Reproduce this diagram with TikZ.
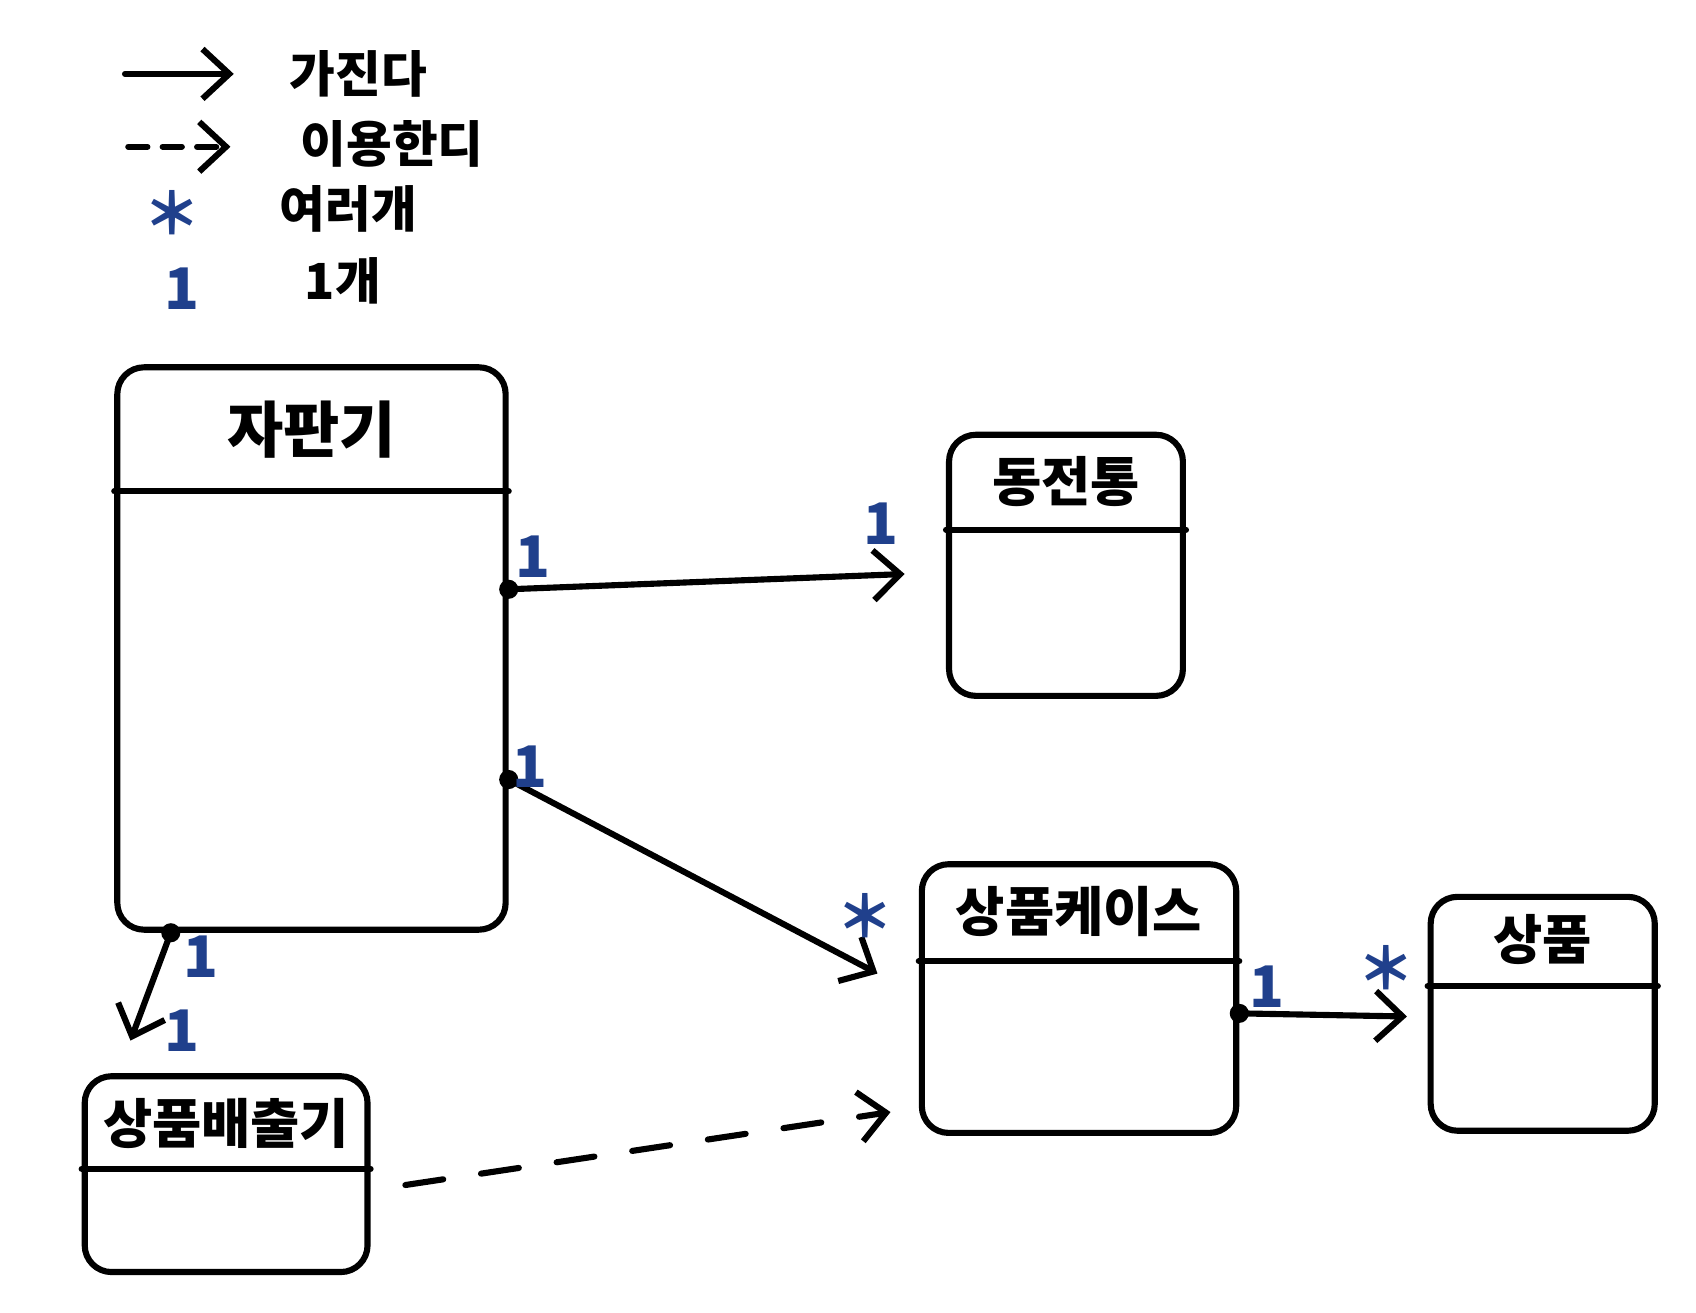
\documentclass[tikz,border=0pt]{standalone}
\usepackage{fontspec}
\setmainfont{Noto Sans CJK KR}
\usetikzlibrary{arrows.meta,calc}
\definecolor{penblue}{RGB}{32,64,140}

\begin{document}
\begin{tikzpicture}[x=0.01cm,y=-0.01cm,line width=1.6pt,line cap=round,line join=round,
	classbox/.style		=	{draw,rounded corners=7pt,inner sep=0pt},
	classtitle/.style	=	{font=\fontsize{14}{16}\selectfont\bfseries},
	legendtext/.style	=	{font=\fontsize{13}{15}\selectfont\bfseries,anchor=west},
	mult/.style			=	{text=penblue,font=\fontsize{15}{17}\selectfont\bfseries},
	has/.style			=	{-{Straight Barb[length=7pt,width=13pt]}},
	uses/.style			=	{has,dash pattern=on 10pt off 10pt},
	enddot/.style		=	{circle,fill,inner sep=0pt,minimum size=5pt}]

	\useasboundingbox (0,0) rectangle (1560,1207);

	% legend
	\coordinate (lg has a) at (115,68);
	\coordinate (lg has b) at (215,68);
	\coordinate (lg uses a) at (118,135);
	\coordinate (lg uses b) at (212,135);
	\draw[has] (lg has a) -- (lg has b);
	\draw[-{Straight Barb[length=7pt,width=13pt]},dash pattern=on 5pt off 4pt] (lg uses a) -- (lg uses b);
	\node[legendtext] (lg has t) at (252,68) {가진다};
	\node[legendtext] (lg uses t) at (262,132) {이용한디};
	\node[mult] (lg many) at (158,196) {＊};
	\node[legendtext] (lg many t) at (243,192) {여러개};
	\node[mult] (lg one) at (167,266) {1};
	\node[legendtext] (lg one t) at (266,258) {1개};

	% classes
	\node[classbox,minimum width=3.57cm,minimum height=5.17cm] (vend) at (286.5,596.5) {};
	\node[classbox,minimum width=2.15cm,minimum height=2.40cm] (coin) at (980.5,520) {};
	\node[classbox,minimum width=2.89cm,minimum height=2.47cm] (case) at (992.5,918.5) {};
	\node[classbox,minimum width=2.06cm,minimum height=2.15cm] (item) at (1419,932.5) {};
	\node[classbox,minimum width=2.60cm,minimum height=1.80cm] (disp) at (208,1080) {};

	\draw ($(vend.north west)+(0,117)$) -- ($(vend.north east)+(0,117)$);
	\draw ($(coin.north west)+(0,90)$) -- ($(coin.north east)+(0,90)$);
	\draw ($(case.north west)+(0,92)$) -- ($(case.north east)+(0,92)$);
	\draw ($(item.north west)+(0,85)$) -- ($(item.north east)+(0,85)$);
	\draw ($(disp.north west)+(0,88)$) -- ($(disp.north east)+(0,88)$);

	\node[classtitle,font=\fontsize{16}{18}\selectfont\bfseries] (vend t) at ($(vend.north)+(0,60)$) {자판기};
	\node[classtitle] (coin t) at ($(coin.north)+(0,46)$) {동전통};
	\node[classtitle] (case t) at ($(case.north)+(0,46)$) {상품케이스};
	\node[classtitle] (item t) at ($(item.north)+(0,42)$) {상품};
	\node[classtitle] (disp t) at ($(disp.north)+(0,46)$) {상품배출기};

	% connectors
	\coordinate (d1) at ($(vend.north east)+(0,207)$);
	\coordinate (d2) at ($(vend.north east)+(0,382)$);
	\coordinate (d3) at ($(vend.south west)+(52,0)$);
	\coordinate (d4) at ($(case.north east)+(0,140)$);
	\coordinate (e1) at ($(coin.west)+(-38,8)$);
	\coordinate (e2) at ($(case.west)+(-38,-23)$);
	\coordinate (e3) at ($(disp.north)+(-88,-30)$);
	\coordinate (e4) at ($(item.west)+(-19,2.5)$);
	\coordinate (u1) at ($(disp.east)+(32,10)$);
	\coordinate (u2) at ($(case.south west)+(-26,-22)$);

	\draw[has] (d1) -- (e1);
	\draw[has] (d2) -- (e2);
	\draw[has] (d3) -- (e3);
	\draw[has] (d4) -- (e4);
	\draw[uses] (u1) -- (u2);
	\foreach \d in {d1,d2,d3,d4}
		\node[enddot] at (\d) {};

	% multiplicities
	\node[mult] (m1) at (490,512) {1};
	\node[mult] (m2) at (810,482) {1};
	\node[mult] (m3) at (487,705) {1};
	\node[mult] (m4) at (796,842) {＊};
	\node[mult] (m5) at (185,880) {1};
	\node[mult] (m6) at (167,948) {1};
	\node[mult] (m7) at (1165,908) {1};
	\node[mult] (m8) at (1275,890) {＊};
\end{tikzpicture}
\end{document}
